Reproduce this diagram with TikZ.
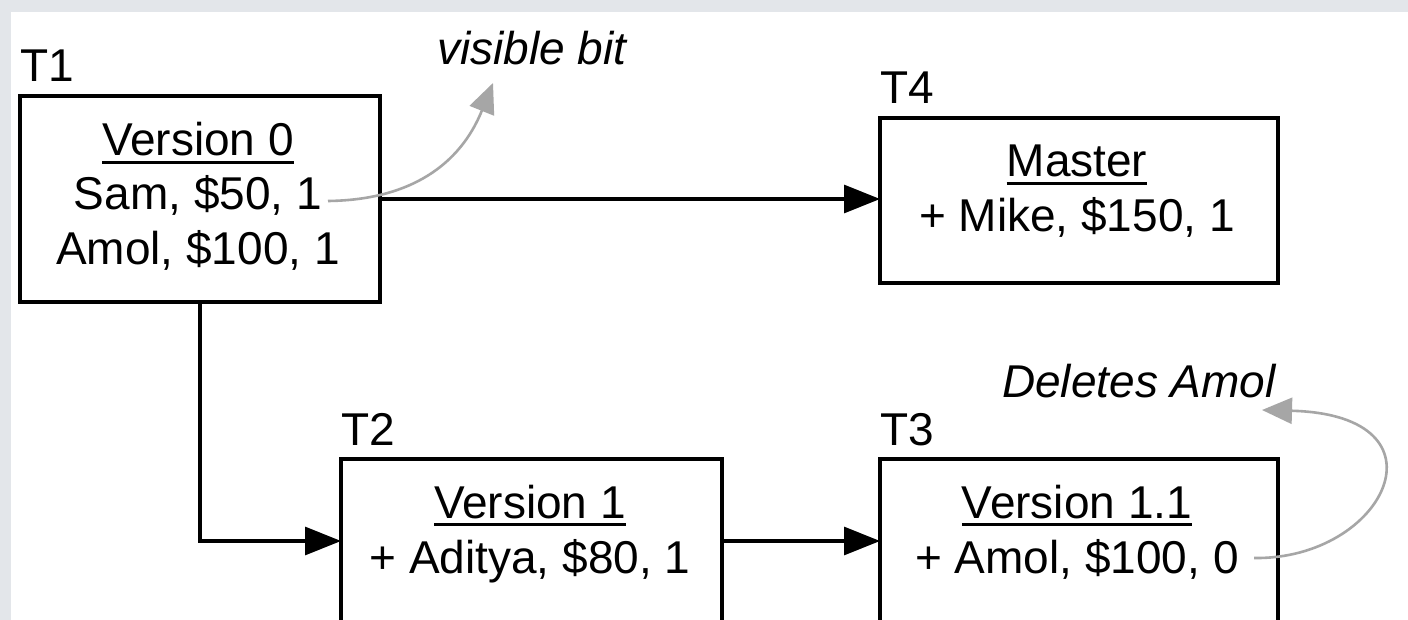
\documentclass[tikz,border=0pt]{standalone}
\usepackage{fontspec}
\setmainfont{Liberation Sans}
\usetikzlibrary{arrows.meta}
\definecolor{framegray}{HTML}{E3E6EA}
\definecolor{notegray}{HTML}{A6A6A6}
% underlined heading with a heavier, closer rule
\newcommand\ulbox[1]{\setbox0\hbox{#1}\rlap{\rule[-4.05pt]{\wd0}{1.6pt}}\box0}
\begin{document}
\begin{tikzpicture}[x=0.5pt,y=-0.5pt,
  box/.style={draw, line width=1.6pt, rectangle, inner sep=0pt, outer sep=0pt, anchor=north west},
  txt/.style={font=\fontsize{23pt}{27pt}\selectfont, inner sep=0pt, anchor=base},
  tlab/.style={font=\fontsize{23pt}{27pt}\selectfont, inner sep=0pt, anchor=base west},
  note/.style={font=\fontsize{23pt}{27pt}\selectfont\itshape, inner sep=0pt},
  flow/.style={line width=1.6pt, -{Triangle[length=18pt,width=14pt]}},
  hint/.style={line width=1.3pt, draw=notegray, -{Triangle[length=15pt,width=13pt,fill=notegray]}}]
\useasboundingbox (0,0) rectangle (1408,620);
\clip (0,0) rectangle (1408,620);
% page background
\fill[framegray] (0,0) rectangle (1408,620);
\fill[white] (11,12) rectangle (1408,620);

% version boxes
\node[box, minimum width=180pt, minimum height=103pt] (t1) at (20,96) {};
\node[box, minimum width=199pt, minimum height=82.5pt] (t4) at (880,118) {};
\node[box, minimum width=190.5pt, minimum height=82pt] (t2) at (341,459) {};
\node[box, minimum width=199pt, minimum height=82pt] (t3) at (880,459) {};

% transaction labels
\node[tlab] (t1lab) at ([yshift=7pt]t1.north west) {T1};
\node[tlab] (t4lab) at ([yshift=7pt]t4.north west) {T4};
\node[tlab] (t2lab) at ([yshift=7pt]t2.north west) {T2};
\node[tlab] (t3lab) at ([yshift=7pt]t3.north west) {T3};

% box contents
\node[txt] (v0)    at (198,156) {\ulbox{Version 0}};
\node[txt] (sam)   at (198,210) {Sam, \$50, 1};
\node[txt] (amol0) at (198,264) {Amol, \$100, 1};
\node[txt] (master) at (1077,177) {\ulbox{Master}};
\node[txt] (mike)   at (1077,232) {+ Mike, \$150, 1};
\node[txt] (v1)  at (530,518) {\ulbox{Version 1}};
\node[txt] (adi) at (530,573) {+ Aditya, \$80, 1};
\node[txt] (v11)   at (1077,518) {\ulbox{Version 1.1}};
\node[txt] (amol1) at (1077,573) {+ Amol, \$100, 0};

% annotations
\node[note, anchor=base west] (vbit) at (437,65) {visible bit};
\node[note, anchor=base east] (del) at (1276,397) {Deletes Amol};

% annotation pointers
\coordinate (vbfrom) at (328,201);
\coordinate (vbto) at (493,83);
\coordinate (delfrom) at (1254,558);
\coordinate (delto) at (1262,410);
\draw[hint] (vbfrom) .. controls (410,200) and (460,165) .. (vbto);
\draw[hint] (delfrom) .. controls (1385,560) and (1455,415) .. (delto);

% branches between versions
\draw[flow] (t1.east) -- (t4.west |- t1.east);
\draw[flow] (t1.south) |- (t2.west);
\draw[flow] (t2.east) -- (t3.west);
\end{tikzpicture}
\end{document}
